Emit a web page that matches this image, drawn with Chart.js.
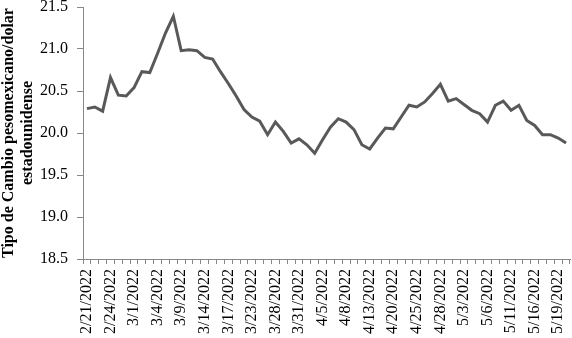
<!DOCTYPE html>
<html>
<head>
<meta charset="utf-8">
<script src="https://cdn.jsdelivr.net/npm/chart.js@4/dist/chart.umd.min.js"></script>
<style>
html,body{margin:0;padding:0;background:#fff;}
#c{display:block;}
</style>
</head>
<body>
<canvas id="c" width="572" height="338"></canvas>
<script>
const dates = [
  "2/21/2022","2/22/2022","2/23/2022","2/24/2022","2/25/2022","2/28/2022",
  "3/1/2022","3/2/2022","3/3/2022","3/4/2022","3/7/2022","3/8/2022","3/9/2022",
  "3/10/2022","3/11/2022","3/14/2022","3/15/2022","3/16/2022","3/17/2022","3/18/2022",
  "3/22/2022","3/23/2022","3/24/2022","3/25/2022","3/28/2022","3/29/2022","3/30/2022",
  "3/31/2022","4/1/2022","4/4/2022","4/5/2022","4/6/2022","4/7/2022","4/8/2022",
  "4/11/2022","4/12/2022","4/13/2022","4/18/2022","4/19/2022","4/20/2022","4/21/2022",
  "4/22/2022","4/25/2022","4/26/2022","4/27/2022","4/28/2022","4/29/2022","5/2/2022",
  "5/3/2022","5/4/2022","5/5/2022","5/6/2022","5/9/2022","5/10/2022","5/11/2022",
  "5/12/2022","5/13/2022","5/16/2022","5/17/2022","5/18/2022","5/19/2022","5/20/2022"
];
const exchangeRate = [
  20.29,20.31,20.26,20.66,20.45,20.44,
  20.54,20.73,20.72,20.95,21.19,21.39,20.98,
  20.99,20.98,20.90,20.88,20.73,20.59,20.44,
  20.28,20.19,20.14,19.98,20.13,20.02,19.88,
  19.93,19.86,19.76,19.92,20.07,20.17,20.13,
  20.04,19.86,19.81,19.94,20.06,20.05,20.19,
  20.33,20.31,20.37,20.47,20.58,20.38,20.41,
  20.34,20.27,20.23,20.13,20.33,20.38,20.27,
  20.33,20.15,20.09,19.98,19.98,19.94,19.88
];
const yTitle = ["Tipo de Cambio pesomexicano/dolar", "estadounidense"];
const yMin = 18.5, yMax = 21.5, yStep = 0.5;
const labelEvery = 3;

const axisColor = "#888888";
const fontFamily = "'Liberation Serif', 'Times New Roman', serif";

new Chart(document.getElementById("c"), {
  type: "line",
  data: {
    labels: dates,
    datasets: [{
      data: exchangeRate,
      borderColor: "#595959",
      borderWidth: 3,
      pointRadius: 0,
      tension: 0,
      fill: false
    }]
  },
  options: {
    responsive: false,
    animation: false,
    devicePixelRatio: 1,
    layout: { padding: { top: 7, right: 2, bottom: 0, left: 0 } },
    plugins: { legend: { display: false }, tooltip: { enabled: false } },
    scales: {
      x: {
        type: "category",
        offset: true,
        grid: { offset: true, drawOnChartArea: false, drawTicks: true, tickLength: 5, color: axisColor, lineWidth: 1 },
        border: { display: true, color: axisColor, width: 1 },
        ticks: {
          autoSkip: false,
          minRotation: 90,
          maxRotation: 90,
          padding: 5,
          color: "#000",
          font: { family: fontFamily, size: 16 },
          callback: function(v, i) { return i % labelEvery === 0 ? dates[i] : ""; }
        },
        afterFit: function(s) { s.height = 79; s.paddingLeft = 0; s.paddingRight = 0; }
      },
      y: {
        min: yMin,
        max: yMax,
        grid: { drawOnChartArea: false, drawTicks: true, tickLength: 6, color: axisColor, lineWidth: 1 },
        border: { display: true, color: axisColor, width: 1 },
        ticks: {
          stepSize: yStep,
          padding: 9,
          color: "#000",
          font: { family: fontFamily, size: 16 },
          callback: function(v) { return Number(v).toFixed(1); }
        },
        title: {
          display: true,
          text: yTitle,
          color: "#000",
          padding: { top: 0, bottom: 0 },
          font: { family: fontFamily, size: 16, weight: "bold", lineHeight: 1.15 }
        },
        afterFit: function(s) { s.width = 83; s.paddingTop = 0; s.paddingBottom = 0; }
      }
    }
  }
});
</script>
</body>
</html>
